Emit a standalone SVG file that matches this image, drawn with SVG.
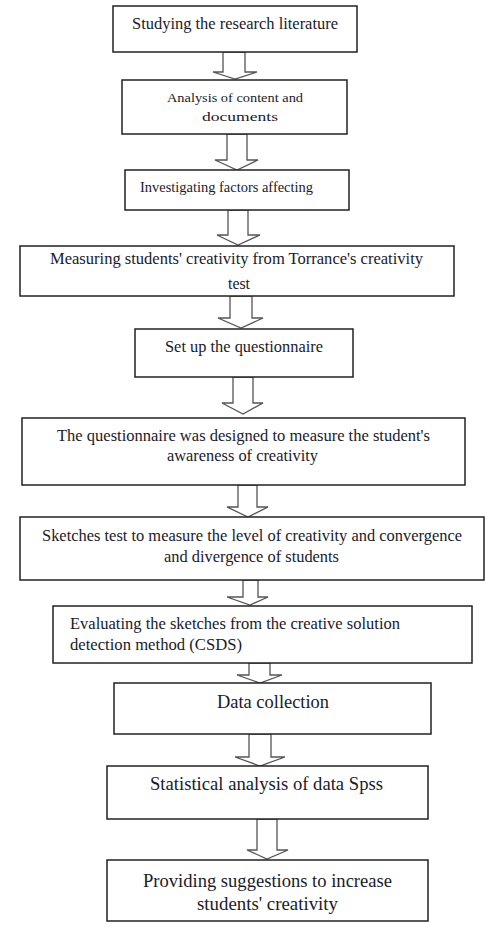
<svg xmlns="http://www.w3.org/2000/svg" width="485" height="929" viewBox="0 0 485 929">
<style>
.box{fill:#fff;stroke:#222;stroke-width:1.5}
.arr{fill:#fff;stroke:#555;stroke-width:1.3;stroke-linejoin:miter}
text{font-family:"Liberation Serif","Times New Roman",serif;fill:#1a1a2a}
</style>
<rect width="485" height="929" fill="#fff"/>
<g id="connectors">
<polygon class="arr" points="223,52 245,52 245,72 257,72 235,79 213,72 223,72"/>
<polygon class="arr" points="227,134 247,134 247,160 258,160 237,170 215,160 227,160"/>
<polygon class="arr" points="228,210 248,210 248,235 260,235 238,245 217,235 228,235"/>
<polygon class="arr" points="230,296 252,296 252,318 263,318 241,328 218,318 230,318"/>
<polygon class="arr" points="233,377 253,377 253,403 263,403 243,414 222,403 233,403"/>
<polygon class="arr" points="238,485 257,485 257,507 268,507 248,517 227,507 238,507"/>
<polygon class="arr" points="243,580 258,580 258,597 268,597 250,605 227,597 243,597"/>
<polygon class="arr" points="249,663 270,663 270,675 282,675 260,683 237,675 249,675"/>
<polygon class="arr" points="249,734 271,734 271,757 285,757 260,766 235,757 249,757"/>
<polygon class="arr" points="257,819 277,819 277,850 288,850 267,859 247,850 257,850"/>
</g>
<g id="n1"><rect class="box" x="113" y="6" width="244" height="46"/><text x="132" y="29" font-size="16" textLength="206" lengthAdjust="spacingAndGlyphs">Studying the research literature</text></g>
<g id="n2"><rect class="box" x="122" y="80" width="225" height="54"/><text x="167" y="102" font-size="13.5" textLength="136" lengthAdjust="spacingAndGlyphs">Analysis of content and</text><text x="202" y="121" font-size="13.5" textLength="76" lengthAdjust="spacingAndGlyphs">documents</text></g>
<g id="n3"><rect class="box" x="125" y="170" width="224" height="40"/><text x="140" y="192" font-size="14" textLength="173" lengthAdjust="spacingAndGlyphs">Investigating factors affecting</text></g>
<g id="n4"><rect class="box" x="20" y="246" width="434" height="50"/><text x="50" y="264" font-size="16.5" textLength="373" lengthAdjust="spacingAndGlyphs">Measuring students' creativity from Torrance's creativity</text><text x="228" y="289" font-size="16.5" textLength="22" lengthAdjust="spacingAndGlyphs">test</text></g>
<g id="n5"><rect class="box" x="135" y="329" width="218" height="48"/><text x="165" y="352" font-size="16.5" textLength="158" lengthAdjust="spacingAndGlyphs">Set up the questionnaire</text></g>
<g id="n6"><rect class="box" x="22" y="418" width="443" height="67"/><text x="57" y="441" font-size="16.5" textLength="373" lengthAdjust="spacingAndGlyphs">The questionnaire was designed to measure the student's</text><text x="167" y="461" font-size="16.5" textLength="151" lengthAdjust="spacingAndGlyphs">awareness of creativity</text></g>
<g id="n7"><rect class="box" x="20" y="517" width="464" height="63"/><text x="42" y="541" font-size="16.5" textLength="420" lengthAdjust="spacingAndGlyphs">Sketches test to measure the level of creativity and convergence</text><text x="164" y="562" font-size="16.5" textLength="175" lengthAdjust="spacingAndGlyphs">and divergence of students</text></g>
<g id="n8"><rect class="box" x="53" y="606" width="419" height="57"/><text x="70" y="629" font-size="16.5" textLength="330" lengthAdjust="spacingAndGlyphs">Evaluating the sketches from the creative solution</text><text x="70" y="650" font-size="16.5" textLength="172" lengthAdjust="spacingAndGlyphs">detection method (CSDS)</text></g>
<g id="n9"><rect class="box" x="114" y="683" width="317" height="51"/><text x="217" y="708" font-size="18" textLength="112" lengthAdjust="spacingAndGlyphs">Data collection</text></g>
<g id="n10"><rect class="box" x="107" y="766" width="321" height="53"/><text x="150" y="790" font-size="18" textLength="233" lengthAdjust="spacingAndGlyphs">Statistical analysis of data Spss</text></g>
<g id="n11"><rect class="box" x="107" y="860" width="321" height="61"/><text x="143" y="887" font-size="18" textLength="249" lengthAdjust="spacingAndGlyphs">Providing suggestions to increase</text><text x="197" y="910" font-size="18" textLength="141" lengthAdjust="spacingAndGlyphs">students' creativity</text></g>
</svg>
